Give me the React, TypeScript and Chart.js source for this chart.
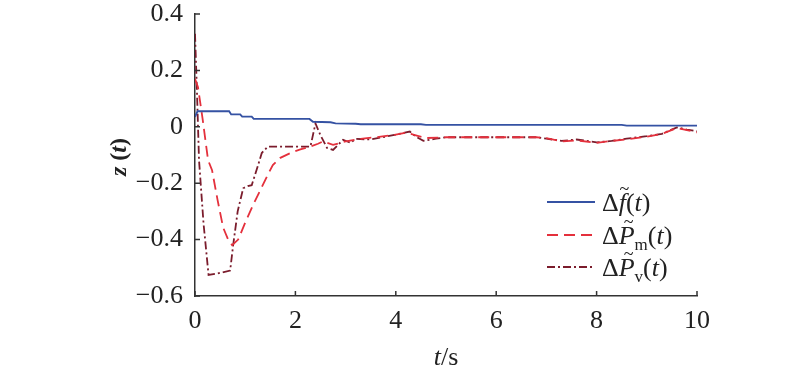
import React, { useEffect, useRef } from "react";
import { Chart, registerables } from "chart.js";

Chart.register(...registerables);

// Δf̃(t)
const fT = [0, 0.05, 0.1, 0.68, 0.72, 0.9, 0.94, 1.13, 1.17, 2.28, 2.35, 2.7, 2.8, 3.2, 3.3, 4.5, 4.6, 8.5, 8.6, 10];
const fV = [0.035, 0.055, 0.055, 0.055, 0.044, 0.044, 0.036, 0.036, 0.028, 0.028, 0.018, 0.016, 0.012, 0.011, 0.009, 0.009, 0.007, 0.007, 0.004, 0.004];

// ΔP̃m(t)
const pmT = [0, 0.06, 0.15, 0.26, 0.34, 0.45, 0.56, 0.66, 0.74, 0.86, 1.0, 1.15, 1.3, 1.45, 1.55, 1.7, 1.9, 2.1, 2.3, 2.45, 2.55, 2.75, 3.0, 3.3, 3.7, 4.0, 4.2, 4.4, 4.6, 5.0, 6.0, 6.8, 7.0, 7.3, 7.6, 8.0, 8.3, 8.6, 9.0, 9.3, 9.6, 9.8, 10];
const pmV = [0.17, 0.14, 0.03, -0.118, -0.154, -0.26, -0.357, -0.4, -0.42, -0.4, -0.34, -0.28, -0.225, -0.17, -0.136, -0.11, -0.093, -0.08, -0.07, -0.06, -0.052, -0.064, -0.052, -0.043, -0.035, -0.028, -0.021, -0.03, -0.04, -0.037, -0.037, -0.037, -0.04, -0.052, -0.048, -0.057, -0.05, -0.045, -0.035, -0.025, -0.004, -0.012, -0.02];

// ΔP̃v(t)
const pvT = [0, 0.04, 0.08, 0.17, 0.27, 0.45, 0.7, 0.76, 0.85, 0.96, 1.05, 1.13, 1.25, 1.33, 1.45, 1.8, 2.0, 2.3, 2.4, 2.5, 2.63, 2.75, 2.95, 3.1, 3.2, 3.5, 3.8, 4.28, 4.4, 4.55, 4.8, 5.0, 6.0, 6.8, 7.0, 7.3, 7.6, 8.0, 8.3, 8.6, 9.0, 9.3, 9.6, 9.8, 10];
const pvV = [0.33, 0.12, -0.118, -0.343, -0.525, -0.52, -0.51, -0.42, -0.3, -0.218, -0.21, -0.207, -0.14, -0.093, -0.07, -0.07, -0.07, -0.07, 0.012, -0.03, -0.075, -0.082, -0.046, -0.057, -0.043, -0.045, -0.035, -0.017, -0.035, -0.05, -0.042, -0.037, -0.037, -0.037, -0.042, -0.05, -0.045, -0.055, -0.05, -0.042, -0.033, -0.025, -0.002, -0.01, -0.016];

const xTicks = [0, 2, 4, 6, 8, 10];
const yTicks = [-0.6, -0.4, -0.2, 0, 0.2, 0.4];

const BLUE = "#3552a3";
const RED = "#e4303c";
const DARK = "#7b1c2c";
const AXIS = "#333333";
const TEXT = "#222222";
const SERIF = "'Liberation Serif', 'DejaVu Serif', serif";

const pts = (t: number[], v: number[]) => t.map((x, i) => ({ x, y: v[i] }));

type Seg = { t: string; it?: boolean; b?: boolean; size?: number; dy?: number; tilde?: boolean };

function drawSegs(ctx: CanvasRenderingContext2D, segs: Seg[], x: number, y: number, base: number) {
  let cx = x;
  for (const s of segs) {
    const size = s.size ?? base;
    ctx.font = `${s.it ? "italic " : ""}${s.b ? "bold " : ""}${size}px ${SERIF}`;
    ctx.fillText(s.t, cx, y + (s.dy ?? 0));
    const w = ctx.measureText(s.t).width;
    if (s.tilde) {
      ctx.save();
      ctx.font = `${Math.round(base * 0.7)}px ${SERIF}`;
      ctx.textAlign = "center";
      ctx.fillText("~", cx + w / 2 + 2, y - base * 0.62);
      ctx.restore();
    }
    cx += w;
  }
}

const annot = {
  id: "annot",
  afterDraw(chart: any) {
    const ctx = chart.ctx as CanvasRenderingContext2D;
    const xs = chart.scales.x;
    const ys = chart.scales.y;
    const area = chart.chartArea;
    ctx.save();
    // inward ticks
    ctx.strokeStyle = AXIS;
    ctx.lineWidth = 1.5;
    ctx.beginPath();
    for (const v of xTicks) {
      const px = xs.getPixelForValue(v);
      ctx.moveTo(px, area.bottom);
      ctx.lineTo(px, area.bottom - 5);
    }
    for (const v of yTicks) {
      const py = ys.getPixelForValue(v);
      ctx.moveTo(area.left, py);
      ctx.lineTo(area.left + 5, py);
    }
    ctx.stroke();

    ctx.fillStyle = TEXT;
    ctx.textBaseline = "alphabetic";
    ctx.textAlign = "left";
    // x title
    const xt: Seg[] = [{ t: "t", it: true }, { t: "/s" }];
    let wx = 0;
    for (const s of xt) {
      ctx.font = `${s.it ? "italic " : ""}26px ${SERIF}`;
      wx += ctx.measureText(s.t).width;
    }
    drawSegs(ctx, xt, (area.left + area.right) / 2 - wx / 2, 365, 26);

    // y title
    ctx.save();
    ctx.translate(126, 157);
    ctx.rotate(-Math.PI / 2);
    const yt: Seg[] = [{ t: "z", it: true, b: true }, { t: " (", b: true }, { t: "t", it: true, b: true }, { t: ")", b: true }];
    let wy = 0;
    for (const s of yt) {
      ctx.font = `${s.it ? "italic " : ""}bold 24px ${SERIF}`;
      wy += ctx.measureText(s.t).width;
    }
    drawSegs(ctx, yt, -wy / 2, 0, 24);
    ctx.restore();

    // legend
    const rows = [
      { color: BLUE, dash: [] as number[], y: 202, segs: [{ t: "Δ" }, { t: "f", it: true, tilde: true }, { t: "(" }, { t: "t", it: true }, { t: ")" }] as Seg[] },
      { color: RED, dash: [11, 6], y: 235, segs: [{ t: "Δ" }, { t: "P", it: true, tilde: true }, { t: "m", size: 17, dy: 6 }, { t: "(" }, { t: "t", it: true }, { t: ")" }] as Seg[] },
      { color: DARK, dash: [8, 3, 2, 3], y: 267, segs: [{ t: "Δ" }, { t: "P", it: true, tilde: true }, { t: "v", size: 17, dy: 6 }, { t: "(" }, { t: "t", it: true }, { t: ")" }] as Seg[] },
    ];
    for (const r of rows) {
      ctx.strokeStyle = r.color;
      ctx.lineWidth = 1.8;
      ctx.setLineDash(r.dash);
      ctx.beginPath();
      ctx.moveTo(547, r.y);
      ctx.lineTo(595, r.y);
      ctx.stroke();
      ctx.setLineDash([]);
      ctx.fillStyle = TEXT;
      drawSegs(ctx, r.segs, 602, r.y + 9, 26);
    }
    ctx.restore();
  },
};

export default function App() {
  const ref = useRef<HTMLCanvasElement | null>(null);
  useEffect(() => {
    if (!ref.current) return;
    const chart = new Chart(ref.current, {
      type: "line",
      data: {
        datasets: [
          { label: "Δf(t)", data: pts(fT, fV), borderColor: BLUE, borderWidth: 1.9, pointRadius: 0, fill: false, tension: 0 },
          { label: "ΔPm(t)", data: pts(pmT, pmV), borderColor: RED, borderWidth: 1.8, borderDash: [11, 6], pointRadius: 0, fill: false, tension: 0 },
          { label: "ΔPv(t)", data: pts(pvT, pvV), borderColor: DARK, borderWidth: 1.8, borderDash: [8, 3, 2, 3], pointRadius: 0, fill: false, tension: 0 },
        ],
      },
      options: {
        responsive: false,
        animation: false,
        layout: { padding: { left: 0, top: 14, right: 103, bottom: 0 } },
        plugins: { legend: { display: false }, tooltip: { enabled: false } },
        scales: {
          x: {
            type: "linear",
            min: 0,
            max: 10,
            afterFit: (s: any) => { s.height = 75; s.paddingLeft = 0; s.paddingRight = 0; },
            afterBuildTicks: (s: any) => { s.ticks = xTicks.map((v) => ({ value: v })); },
            ticks: { color: TEXT, font: { family: SERIF, size: 26 }, padding: 10, maxRotation: 0, callback: (v: any) => String(v) },
            grid: { display: true, drawOnChartArea: false, drawTicks: false },
            border: { display: true, color: AXIS, width: 1.5 },
          },
          y: {
            type: "linear",
            min: -0.6,
            max: 0.4,
            afterFit: (s: any) => { s.width = 195; s.paddingTop = 0; s.paddingBottom = 0; },
            afterBuildTicks: (s: any) => { s.ticks = yTicks.map((v) => ({ value: v })); },
            ticks: {
              color: TEXT,
              font: { family: SERIF, size: 26 },
              padding: 12,
              callback: (v: any) => {
                const n = Number(v);
                if (Math.abs(n) < 1e-9) return "0";
                return (n < 0 ? "\u2212" : "") + Math.abs(n).toFixed(1);
              },
            },
            grid: { display: true, drawOnChartArea: false, drawTicks: false },
            border: { display: true, color: AXIS, width: 1.5 },
          },
        },
      },
      plugins: [annot],
    });
    return () => chart.destroy();
  }, []);
  return (
    <div style={{ position: "fixed", left: 0, top: 0, width: 800, height: 371, background: "#fff" }}>
      <canvas ref={ref} width={800} height={371} style={{ display: "block" }} />
    </div>
  );
}
